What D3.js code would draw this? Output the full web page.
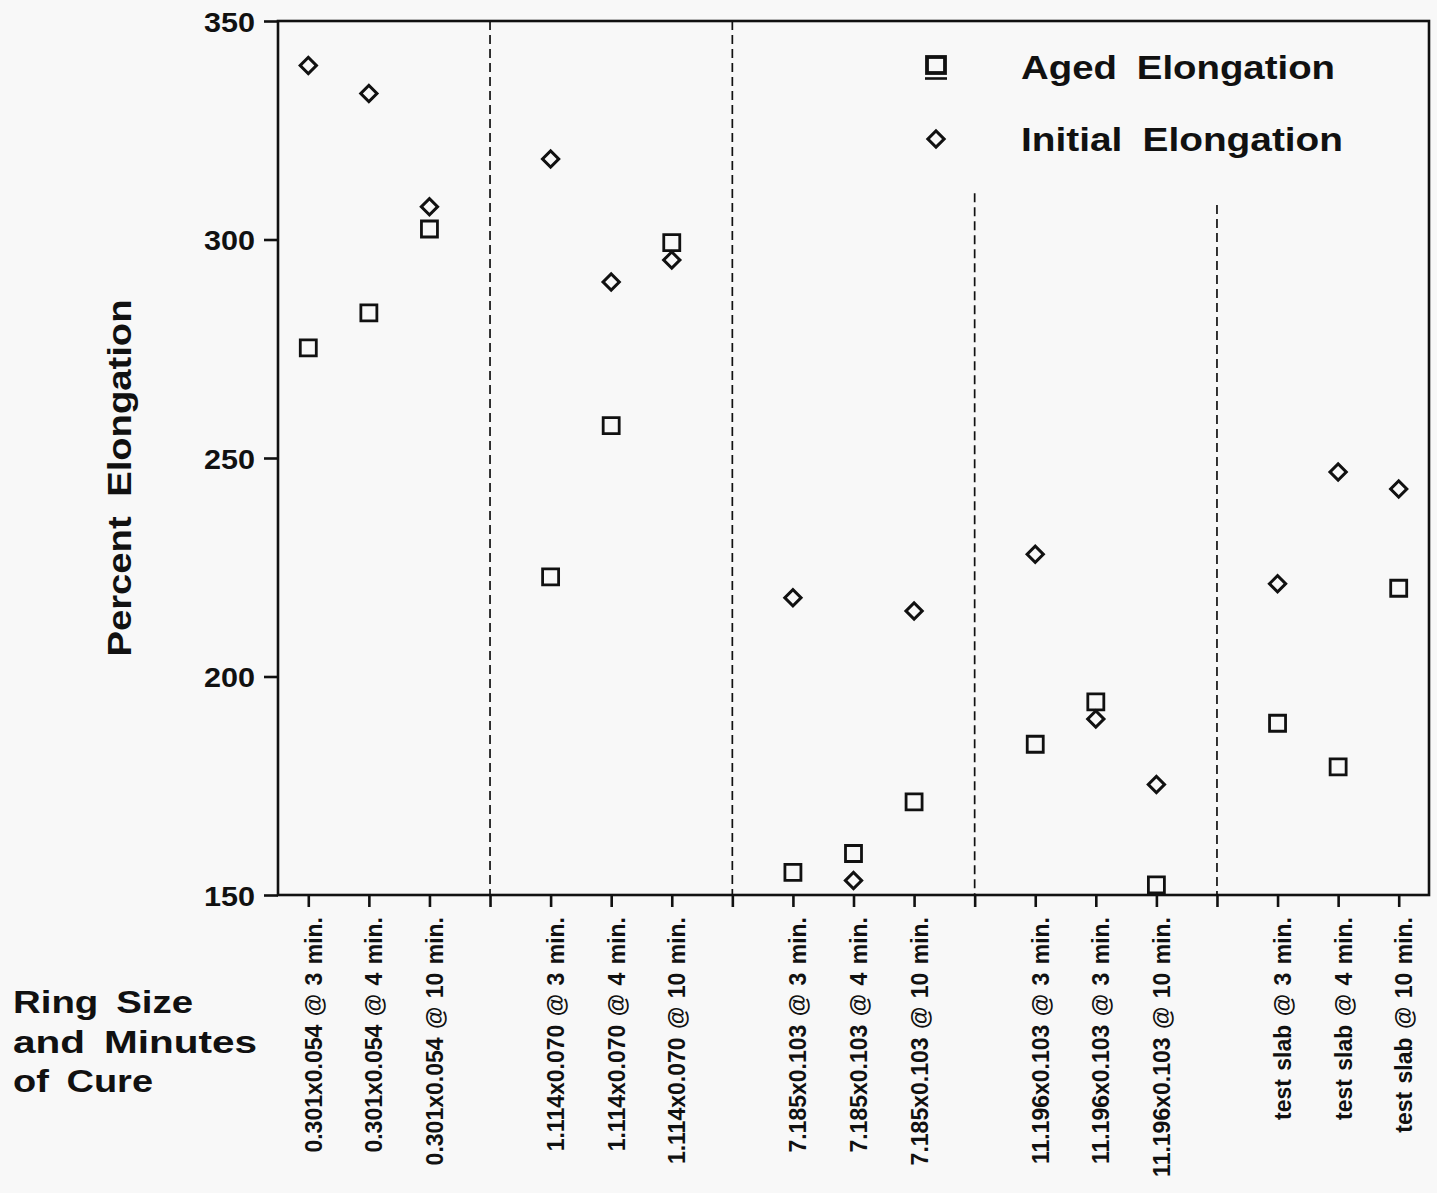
<!DOCTYPE html>
<html>
<head>
<meta charset="utf-8">
<script src="https://cdn.jsdelivr.net/npm/d3@7"></script>
<style>
  html, body { margin: 0; padding: 0; background: #f8f8f8; }
  svg { display: block; }
  text { font-family: "Liberation Sans", Arial, Helvetica, sans-serif; font-weight: bold; fill: #111; }
</style>
</head>
<body>
<svg id="chart" width="1437" height="1193"></svg>
<script>
// Ring size and cure time for each specimen, in plotting order (groups of three)
const categories = [
  "0.301x0.054 @ 3 min.", "0.301x0.054 @ 4 min.", "0.301x0.054 @ 10 min.",
  "1.114x0.070 @ 3 min.", "1.114x0.070 @ 4 min.", "1.114x0.070 @ 10 min.",
  "7.185x0.103 @ 3 min.", "7.185x0.103 @ 4 min.", "7.185x0.103 @ 10 min.",
  "11.196x0.103 @ 3 min.", "11.196x0.103 @ 3 min.", "11.196x0.103 @ 10 min.",
  "test slab @ 3 min.", "test slab @ 4 min.", "test slab @ 10 min."
];
// Percent elongation after aging
const aged = [275.2, 283.2, 302.4, 222.8, 257.4, 299.3, 155.2, 159.5, 171.3, 184.5, 194.2, 152.3, 189.3, 179.3, 220.2];
// Percent elongation before aging
const initial = [339.8, 333.4, 307.5, 318.4, 290.3, 295.3, 218.0, 153.3, 215.0, 228.0, 190.3, 175.3, 221.2, 246.8, 242.9];
// Y-axis ticks
const yTicks = [150, 200, 250, 300, 350];
// Group dividers: slot position and the value where each dashed line begins
const dividerSlots = [3, 7, 11, 15];
const dividerTops = [350, 350, 310.6, 307.9];
const seriesNames = ["Aged Elongation", "Initial Elongation"];

const svg = d3.select("#chart");
const ink = "#111";

// each group of three occupies three slots, followed by one divider slot
const slotOf = i => i + Math.floor(i / 3);

const x = d3.scaleLinear().domain([-0.5, 18.5]).range([278, 1429]);
const y = d3.scaleLinear().domain([150, 350]).range([895, 21]);

const slotLabel = new Map(categories.map((c, i) => [slotOf(i), c]));

// dashed group dividers
svg.append("g").selectAll("line")
  .data(dividerSlots)
  .join("line")
  .attr("x1", d => x(d)).attr("x2", d => x(d))
  .attr("y1", (d, i) => y(dividerTops[i])).attr("y2", y(150))
  .attr("stroke", ink).attr("stroke-width", 1.7)
  .attr("stroke-dasharray", "9,5");

// y axis
const yAxis = svg.append("g")
  .attr("transform", `translate(${x(-0.5)},0)`)
  .call(d3.axisLeft(y).tickValues(yTicks).tickSize(14).tickPadding(9));
yAxis.select(".domain").remove();
yAxis.selectAll(".tick line").attr("stroke", ink).attr("stroke-width", 2.6);
yAxis.selectAll(".tick text")
  .attr("font-size", 28)
  .attr("textLength", 51)
  .attr("lengthAdjust", "spacingAndGlyphs")
  .attr("dy", "0.36em");

// x axis: a tick at every slot, labels only under specimens
const xAxis = svg.append("g")
  .attr("transform", `translate(0,${y(150)})`)
  .call(d3.axisBottom(x).tickValues(d3.range(19)).tickSize(12)
    .tickFormat(s => slotLabel.get(s) || ""));
xAxis.select(".domain").remove();
xAxis.selectAll(".tick line").attr("stroke", ink).attr("stroke-width", 2.6);
xAxis.selectAll(".tick text")
  .attr("font-size", 23)
  .attr("text-anchor", "end")
  .attr("transform", "rotate(-90)")
  .attr("x", -22)
  .attr("y", 13)
  .attr("dy", 0)
  .attr("word-spacing", 2);

// plot frame
svg.append("rect")
  .attr("x", x(-0.5)).attr("y", y(350))
  .attr("width", x(18.5) - x(-0.5)).attr("height", y(150) - y(350))
  .attr("fill", "none").attr("stroke", ink).attr("stroke-width", 2.6);

// markers
const squarePath = d3.symbol(d3.symbolSquare, 16 * 16)();
const diamondPath = d3.symbol(d3.symbolSquare, 11.5 * 11.5)();

svg.append("g").selectAll("path")
  .data(aged)
  .join("path")
  .attr("d", squarePath)
  .attr("transform", (d, i) => `translate(${x(slotOf(i))},${y(d)})`)
  .attr("fill", "none").attr("stroke", ink).attr("stroke-width", 2.8);

svg.append("g").selectAll("path")
  .data(initial)
  .join("path")
  .attr("d", diamondPath)
  .attr("transform", (d, i) => `translate(${x(slotOf(i))},${y(d)}) rotate(45)`)
  .attr("fill", "none").attr("stroke", ink).attr("stroke-width", 3);

// legend
const legend = svg.append("g");
legend.append("rect")
  .attr("x", 927).attr("y", 57).attr("width", 18).attr("height", 16)
  .attr("fill", "none").attr("stroke", ink).attr("stroke-width", 3.8);
legend.append("line")
  .attr("x1", 925).attr("x2", 947).attr("y1", 78.5).attr("y2", 78.5)
  .attr("stroke", ink).attr("stroke-width", 2.6);
legend.append("path")
  .attr("d", diamondPath)
  .attr("transform", "translate(936,139) rotate(45)")
  .attr("fill", "none").attr("stroke", ink).attr("stroke-width", 3);
legend.selectAll("text")
  .data(seriesNames)
  .join("text")
  .attr("x", 1021)
  .attr("y", (d, i) => i === 0 ? 79 : 151)
  .attr("font-size", 33)
  .attr("word-spacing", 8)
  .attr("textLength", (d, i) => i === 0 ? 314 : 322)
  .attr("lengthAdjust", "spacingAndGlyphs")
  .text(d => d);

// y axis title
svg.append("text")
  .attr("transform", "translate(131,478) rotate(-90)")
  .attr("text-anchor", "middle")
  .attr("font-size", 34)
  .attr("word-spacing", 8)
  .attr("textLength", 357)
  .attr("lengthAdjust", "spacingAndGlyphs")
  .text("Percent Elongation");

// x axis title
const xTitle = [["Ring Size", 180], ["and Minutes", 244], ["of Cure", 140]];
svg.append("g").selectAll("text")
  .data(xTitle)
  .join("text")
  .attr("x", 13)
  .attr("y", (d, i) => 1013 + i * 39.5)
  .attr("font-size", 32)
  .attr("word-spacing", 6)
  .attr("textLength", d => d[1])
  .attr("lengthAdjust", "spacingAndGlyphs")
  .text(d => d[0]);
</script>
</body>
</html>
